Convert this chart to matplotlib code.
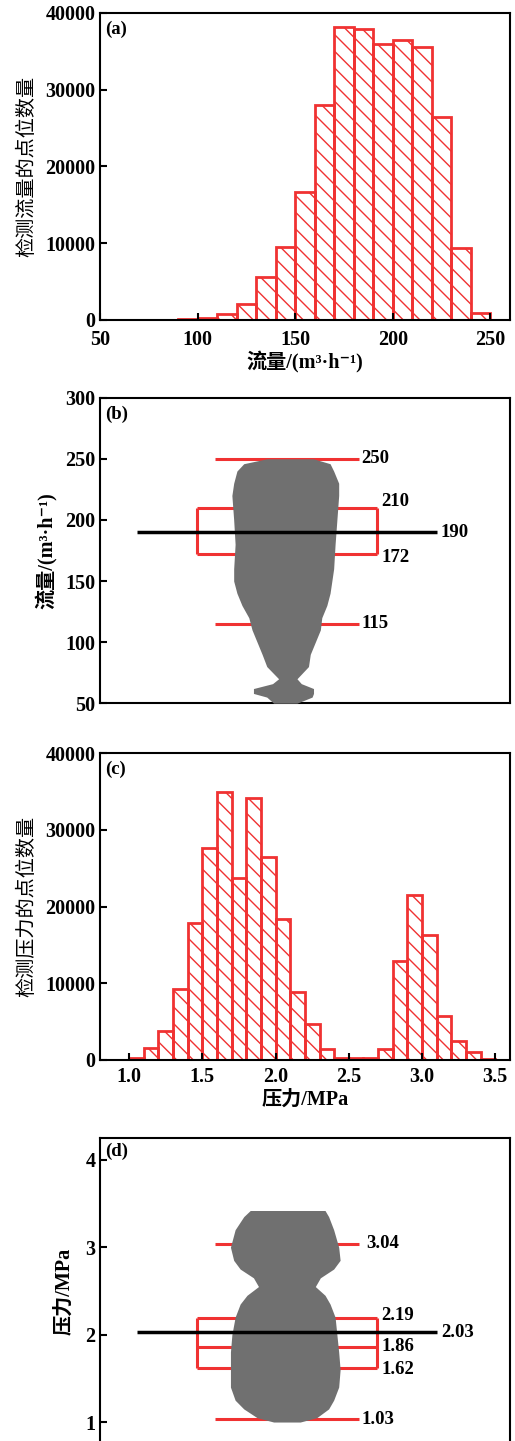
import numpy as np
import matplotlib
matplotlib.use("Agg")
import matplotlib.pyplot as plt

plt.rcParams['font.family'] = ['Liberation Serif', 'Noto Sans CJK SC', 'DejaVu Sans']
plt.rcParams['font.weight'] = 'bold'
plt.rcParams['hatch.linewidth'] = 1.0
plt.rcParams['hatch.color'] = '#f03232'
plt.rcParams['axes.unicode_minus'] = False

RED = '#f03232'
GRAY = '#707070'

# (a) flow histogram, bins of 10 m3/h starting at 80
flow_edges = [80, 90, 100, 110, 120, 130, 140, 150, 160, 170, 180, 190, 200, 210, 220, 230, 240]
flow_counts = [40, 130, 200, 830, 2040, 5570, 9480, 16650, 28040, 38130, 37900, 35950, 36430, 35520, 26390, 9430, 870]

# (b) flow box statistics
flow_low, flow_q1, flow_mean, flow_q3, flow_high = 115, 172, 190, 210, 250
# outline of the flow point cloud (y, left x, right x)
flow_cloud_y = [50, 55, 58, 62, 66, 70, 80, 90, 100, 110, 120, 130, 140, 150, 160, 180, 200, 220, 230, 240, 246, 250]
flow_cloud_l = [0.963, 0.944, 0.907, 0.907, 0.960, 0.977, 0.944, 0.931, 0.917, 0.903, 0.894, 0.875, 0.861, 0.852, 0.852, 0.856, 0.852, 0.847, 0.852, 0.861, 0.880, 0.944]
flow_cloud_r = [1.028, 1.070, 1.074, 1.074, 1.040, 1.028, 1.060, 1.065, 1.079, 1.093, 1.097, 1.111, 1.120, 1.125, 1.130, 1.134, 1.139, 1.144, 1.144, 1.130, 1.120, 1.074]

# (c) pressure histogram, bins of 0.1 MPa starting at 1.0
pres_edges = [1.0, 1.1, 1.2, 1.3, 1.4, 1.5, 1.6, 1.7, 1.8, 1.9, 2.0, 2.1, 2.2, 2.3, 2.4, 2.5, 2.6, 2.7, 2.8, 2.9, 3.0, 3.1, 3.2, 3.3, 3.4]
pres_counts = [300, 1600, 3830, 9300, 17900, 27600, 34870, 23700, 34200, 26500, 18400, 8800, 4650, 1400, 200, 200, 300, 1400, 12950, 21560, 16350, 5740, 2480, 1000, 100]

# (d) pressure box statistics
pres_low, pres_q1, pres_med, pres_mean, pres_q3, pres_high = 1.03, 1.62, 1.86, 2.03, 2.19, 3.04
pres_cloud_y = [1.0, 1.05, 1.15, 1.25, 1.4, 1.6, 1.8, 2.0, 2.2, 2.35, 2.45, 2.55, 2.65, 2.75, 2.85, 3.0, 3.2, 3.35, 3.42]
pres_cloud_l = [0.963, 0.917, 0.880, 0.856, 0.843, 0.843, 0.843, 0.847, 0.856, 0.870, 0.889, 0.921, 0.907, 0.870, 0.852, 0.843, 0.856, 0.880, 0.898]
pres_cloud_r = [1.037, 1.083, 1.116, 1.130, 1.144, 1.148, 1.144, 1.139, 1.134, 1.120, 1.106, 1.079, 1.093, 1.130, 1.148, 1.144, 1.130, 1.116, 1.106]

fig = plt.figure(figsize=(5.15, 14.41), dpi=100)
L, W = 0.194, 0.796
ax_a = fig.add_axes([L, 0.778, W, 0.213])
ax_b = fig.add_axes([L, 0.512, W, 0.212])
ax_c = fig.add_axes([L, 0.2644, W, 0.213])
ax_d = fig.add_axes([L, -0.002, W, 0.2123])

def style(ax, xpad=3):
    for s in ax.spines.values():
        s.set_linewidth(1.5)
    ax.tick_params(direction='in', length=5, width=1.5, labelsize=14.5, pad=3)
    ax.tick_params(axis='x', pad=xpad)

cn = dict(fontsize=14.5, fontweight='normal', family=['Noto Sans CJK SC', 'Liberation Serif'])
lab = dict(fontsize=14.5, fontweight='bold')
flow_label = '流量/(m³·h⁻¹)'

# (a)
ax_a.bar(flow_edges, flow_counts, width=10, align='edge', fill=False,
         edgecolor=RED, linewidth=2, hatch='\\\\')
ax_a.set_xlim(50, 260)
ax_a.set_ylim(0, 40000)
ax_a.set_xticks([50, 100, 150, 200, 250])
ax_a.set_yticks([0, 10000, 20000, 30000, 40000])
ax_a.set_ylabel('检测流量的点位数量', labelpad=6, **cn)
ax_a.set_xlabel(flow_label, labelpad=1, **lab)
ax_a.text(0.012, 0.975, '(a)', transform=ax_a.transAxes, ha='left', va='top', fontsize=13.5)
style(ax_a, xpad=7)

def boxpanel(ax, cy, cl, cr, low, q1, q3, high, mean, med=None):
    ax.hlines([low, high], 0.8, 1.2, color=RED, lw=2.2, zorder=2)
    ax.hlines([q1, q3], 0.75, 1.25, color=RED, lw=2.2, zorder=2)
    ax.vlines([0.75, 1.25], q1, q3, color=RED, lw=2.2, zorder=2)
    if med is not None:
        ax.hlines(med, 0.75, 1.25, color=RED, lw=2.2, zorder=2)
    ax.fill_betweenx(cy, cl, cr, color=GRAY, lw=0, zorder=3)
    ax.hlines(mean, 0.583, 1.417, color='black', lw=2.5, zorder=4)
    ax.set_xlim(0.48, 1.62)
    ax.set_xticks([])

# (b)
boxpanel(ax_b, flow_cloud_y, flow_cloud_l, flow_cloud_r,
         flow_low, flow_q1, flow_q3, flow_high, flow_mean)
ax_b.set_ylim(50, 300)
ax_b.set_yticks([50, 100, 150, 200, 250, 300])
for v, x in [(flow_high, 1.208), (flow_low, 1.208), (flow_q3, 1.262), (flow_q1, 1.262), (flow_mean, 1.428)]:
    dy = 5 if v == flow_q3 else (-3 if v == flow_q1 else 0)
    ax_b.text(x, v + dy, str(v), ha='left', va='center', fontsize=13.5)
ax_b.set_ylabel(flow_label, labelpad=6, **lab)
ax_b.text(0.012, 0.975, '(b)', transform=ax_b.transAxes, ha='left', va='top', fontsize=13.5)
style(ax_b)

# (c)
ax_c.bar(pres_edges, pres_counts, width=0.1, align='edge', fill=False,
         edgecolor=RED, linewidth=2, hatch='\\\\')
ax_c.set_xlim(0.8, 3.6)
ax_c.set_ylim(0, 40000)
ax_c.set_xticks([1.0, 1.5, 2.0, 2.5, 3.0, 3.5])
ax_c.set_xticklabels(['%.1f' % t for t in [1.0, 1.5, 2.0, 2.5, 3.0, 3.5]])
ax_c.set_yticks([0, 10000, 20000, 30000, 40000])
ax_c.set_ylabel('检测压力的点位数量', labelpad=6, **cn)
ax_c.set_xlabel('压力/MPa', labelpad=2, **lab)
ax_c.text(0.012, 0.975, '(c)', transform=ax_c.transAxes, ha='left', va='top', fontsize=13.5)
style(ax_c, xpad=5)

# (d)
boxpanel(ax_d, pres_cloud_y, pres_cloud_l, pres_cloud_r,
         pres_low, pres_q1, pres_q3, pres_high, pres_mean, med=pres_med)
ax_d.set_ylim(0.75, 4.25)
ax_d.set_yticks([1, 2, 3, 4])
for v, x, dy in [(pres_high, 1.22, 0), (pres_low, 1.208, 0), (pres_q3, 1.262, 0.03),
                 (pres_med, 1.262, 0), (pres_q1, 1.262, -0.02), (pres_mean, 1.43, 0)]:
    ax_d.text(x, v + dy, '%.2f' % v, ha='left', va='center', fontsize=13.5)
ax_d.set_ylabel('压力/MPa', labelpad=8, **lab)
ax_d.text(0.012, 0.985, '(d)', transform=ax_d.transAxes, ha='left', va='top', fontsize=13.5)
style(ax_d)

fig.savefig('out.png', dpi=100)
